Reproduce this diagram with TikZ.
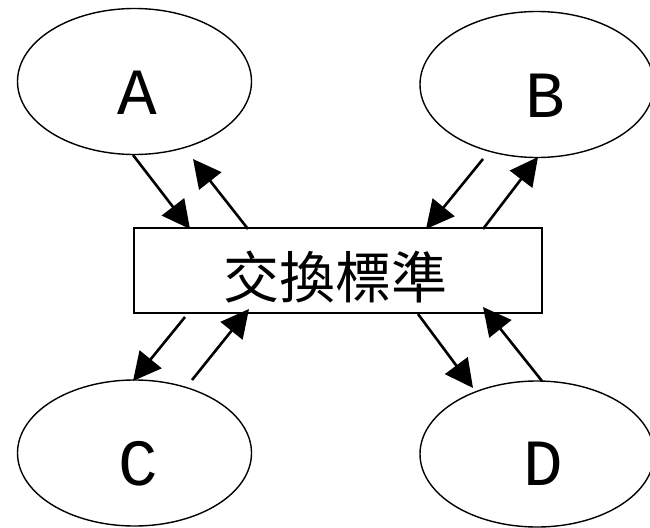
\documentclass[tikz,border=0pt]{standalone}
\usepackage{fontspec}
\setmainfont{Liberation Serif}
\newfontfamily\latfont{Liberation Mono}
\newfontfamily\cjk{Noto Sans CJK TC}
\usetikzlibrary{shapes.geometric,arrows.meta}
\tikzset{
  ell/.style={draw, ellipse, line width=1.4pt, minimum width=234pt, minimum height=146pt, inner sep=0pt},
  lt/.style={inner sep=0pt},
  boxnode/.style={draw, line width=2pt, minimum width=408pt, minimum height=85pt, inner sep=0pt},
  conn/.style={line width=2.6pt, -{Triangle[length=28pt,width=28pt]}}
}
\newcommand{\ltxt}[1]{{\latfont\fontsize{66}{66}\selectfont #1}}
\begin{document}
\begin{tikzpicture}[x=1pt,y=-1pt]
\useasboundingbox (0,0) rectangle (650,527);
\node[ell] (A) at (134.5,81.5) {};
\node[ell] (B) at (537,84.5) {};
\node[ell] (C) at (134.5,453) {};
\node[ell] (D) at (537,454) {};
\node[lt] (tA) at (137,93) {\ltxt{A}};
\node[lt] (tB) at (545,96) {\ltxt{B}};
\node[lt] (tC) at (138,464) {\ltxt{C}};
\node[lt] (tD) at (543,464) {\ltxt{D}};
\node[boxnode] (S) at (338,270.5) {};
\node[inner sep=0pt] (tS) at (335,277.5) {\cjk\fontsize{56}{56}\selectfont 交換標準};
% endpoints
\coordinate (a1) at (133,155);
\coordinate (a2) at (190,229);
\coordinate (a3) at (248,229);
\coordinate (a4) at (193,159);
\coordinate (b1) at (483,159);
\coordinate (b2) at (426,229);
\coordinate (b3) at (483,229);
\coordinate (b4) at (538,157);
\coordinate (c1) at (185,317);
\coordinate (c2) at (133,381);
\coordinate (c3) at (192,380);
\coordinate (c4) at (249,309);
\coordinate (d1) at (418,314);
\coordinate (d2) at (473,388);
\coordinate (d3) at (542,381);
\coordinate (d4) at (483,307);
\draw[conn] (a1) -- (a2);
\draw[conn] (a3) -- (a4);
\draw[conn] (b1) -- (b2);
\draw[conn] (b3) -- (b4);
\draw[conn] (c1) -- (c2);
\draw[conn] (c3) -- (c4);
\draw[conn] (d1) -- (d2);
\draw[conn] (d3) -- (d4);
\end{tikzpicture}
\end{document}
